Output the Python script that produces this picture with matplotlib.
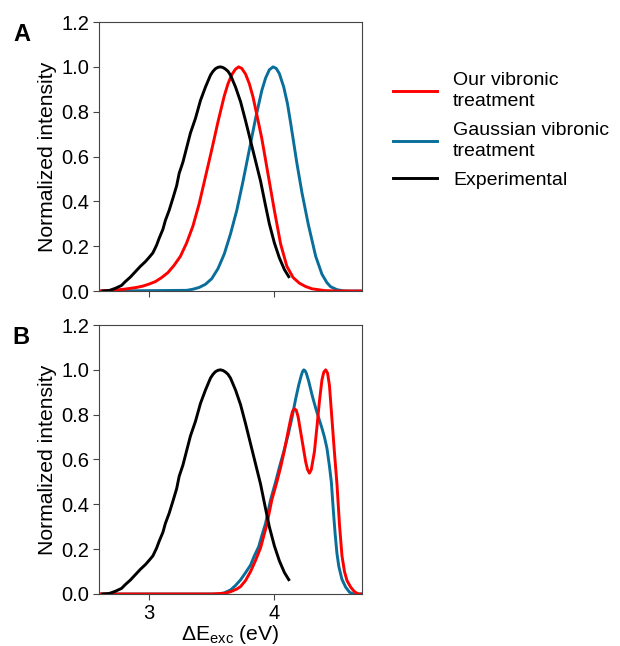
import numpy as np
import matplotlib
matplotlib.use("Agg")
import matplotlib.pyplot as plt

plt.rcParams["font.family"] = ["Liberation Sans", "DejaVu Sans"]

# experimental spectrum (same in both panels)
exp_x = [2.63, 2.68, 2.73, 2.78, 2.81, 2.85, 2.89, 2.93, 2.97, 3.00, 3.03, 3.06,
         3.08, 3.11, 3.13, 3.16, 3.19, 3.22, 3.24, 3.27, 3.30, 3.33, 3.37, 3.41,
         3.45, 3.49, 3.51, 3.53, 3.55, 3.57, 3.59, 3.61, 3.63, 3.65, 3.69, 3.73,
         3.77, 3.81, 3.85, 3.89, 3.93, 3.96, 4.00, 4.04, 4.08, 4.115]
exp_y = [0.0, 0.002, 0.012, 0.025, 0.042, 0.062, 0.086, 0.11, 0.131, 0.15, 0.17,
         0.205, 0.235, 0.275, 0.315, 0.36, 0.414, 0.47, 0.525, 0.575, 0.64, 0.705,
         0.77, 0.85, 0.91, 0.963, 0.98, 0.992, 0.998, 1.0, 0.997, 0.99, 0.98,
         0.963, 0.91, 0.845, 0.76, 0.67, 0.58, 0.49, 0.38, 0.30, 0.215, 0.148,
         0.096, 0.064]

# panel A
a_our_x = [2.60, 2.70, 2.80, 2.90, 2.95, 3.00, 3.05, 3.10, 3.15, 3.20, 3.25, 3.30,
           3.35, 3.40, 3.45, 3.50, 3.55, 3.60, 3.63, 3.66, 3.69, 3.715, 3.74,
           3.77, 3.80, 3.83, 3.87, 3.90, 3.95, 4.00, 4.05, 4.10, 4.15, 4.20,
           4.25, 4.30, 4.40, 4.50, 4.70]
a_our_y = [0.0, 0.003, 0.008, 0.016, 0.022, 0.031, 0.042, 0.06, 0.082, 0.115,
           0.155, 0.215, 0.29, 0.39, 0.51, 0.63, 0.755, 0.87, 0.925, 0.965, 0.99,
           1.0, 0.993, 0.968, 0.925, 0.865, 0.76, 0.68, 0.52, 0.36, 0.21, 0.11,
           0.06, 0.035, 0.02, 0.01, 0.002, 0.0, 0.0]

a_gau_x = [2.60, 3.30, 3.35, 3.40, 3.45, 3.50, 3.55, 3.60, 3.65, 3.70, 3.75, 3.80,
           3.85, 3.90, 3.93, 3.96, 3.99, 4.015, 4.04, 4.075, 4.105, 4.13, 4.18,
           4.22, 4.27, 4.33, 4.38, 4.42, 4.45, 4.50, 4.55, 4.60, 4.70]
a_gau_y = [0.0, 0.003, 0.008, 0.016, 0.03, 0.055, 0.10, 0.165, 0.255, 0.36, 0.49,
           0.63, 0.77, 0.895, 0.95, 0.987, 1.0, 0.993, 0.97, 0.91, 0.835, 0.75,
           0.57, 0.44, 0.30, 0.155, 0.075, 0.037, 0.019, 0.006, 0.001, 0.0, 0.0]

# panel B
b_our_x = [2.60, 3.50, 3.60, 3.65, 3.70, 3.73, 3.77, 3.81, 3.85, 3.89, 3.94, 3.98,
           4.02, 4.05, 4.08, 4.11, 4.13, 4.145, 4.16, 4.175, 4.19, 4.22, 4.25,
           4.265, 4.28, 4.295, 4.32, 4.34, 4.36, 4.38, 4.395, 4.41, 4.425, 4.44,
           4.46, 4.48, 4.50, 4.52, 4.54, 4.56, 4.58, 4.61, 4.64, 4.67, 4.70]
b_our_y = [0.0, 0.0, 0.003, 0.01, 0.022, 0.033, 0.06, 0.10, 0.15, 0.206, 0.31,
           0.42, 0.50, 0.565, 0.64, 0.725, 0.78, 0.815, 0.826, 0.82, 0.79, 0.69,
           0.59, 0.555, 0.539, 0.555, 0.635, 0.745, 0.86, 0.955, 0.99, 1.0, 0.985,
           0.93, 0.78, 0.63, 0.49, 0.31, 0.17, 0.10, 0.06, 0.03, 0.01, 0.0, 0.0]

b_gau_x = [2.60, 3.55, 3.60, 3.65, 3.69, 3.73, 3.77, 3.81, 3.84, 3.875, 3.90,
           3.93, 3.97, 4.01, 4.04, 4.075, 4.11, 4.14, 4.17, 4.195, 4.215, 4.225,
           4.235, 4.245, 4.255, 4.275, 4.30, 4.33, 4.36, 4.38, 4.40, 4.42, 4.44,
           4.455, 4.47, 4.485, 4.50, 4.515, 4.54, 4.57, 4.60, 4.63, 4.70]
b_gau_y = [0.0, 0.0, 0.005, 0.018, 0.038, 0.063, 0.095, 0.129, 0.17, 0.211, 0.26,
           0.315, 0.42, 0.50, 0.565, 0.635, 0.71, 0.784, 0.87, 0.933, 0.975, 0.992,
           1.0, 0.996, 0.985, 0.948, 0.89, 0.829, 0.775, 0.74, 0.70, 0.65, 0.57,
           0.50, 0.38, 0.27, 0.18, 0.122, 0.065, 0.03, 0.008, 0.0, 0.0]

labels = ["Our vibronic\ntreatment", "Gaussian vibronic\ntreatment", "Experimental"]
red = "#ff0000"
blue = "#0a6e9a"
lw = 2.1

fig = plt.figure(figsize=(6.2, 6.46), dpi=100)
ax_a = fig.add_axes([0.1597, 0.5495, 0.4242, 0.4164])
ax_b = fig.add_axes([0.1597, 0.0805, 0.4242, 0.4164])

panels = [
    (ax_a, a_our_x, a_our_y, a_gau_x, a_gau_y, "A"),
    (ax_b, b_our_x, b_our_y, b_gau_x, b_gau_y, "B"),
]
for ax, ox, oy, gx, gy, tag in panels:
    ax.plot(exp_x, exp_y, color="black", lw=lw, zorder=3)
    ax.plot(gx, gy, color=blue, lw=lw, zorder=2)
    ax.plot(ox, oy, color=red, lw=lw, zorder=2)
    ax.set_xlim(2.6, 4.7)
    ax.set_ylim(0, 1.2)
    ax.set_xticks([3, 4])
    ax.set_yticks(np.arange(0, 1.21, 0.2))
    ax.set_yticklabels([f"{v:.1f}" for v in np.arange(0, 1.21, 0.2)])
    ax.tick_params(labelsize=14.5, length=4.5, pad=2.5, color="#444444")
    for sp in ax.spines.values():
        sp.set_color("#444444")
    ax.set_ylabel("Normalized intensity", fontsize=15.2, labelpad=3)
    ax.text(-0.295, 0.955, tag, transform=ax.transAxes, fontsize=17,
            fontweight="bold", ha="center", va="center")

ax_a.tick_params(labelbottom=False)
ax_b.set_xlabel("ΔE$_{\\mathregular{exc}}$ (eV)", fontsize=15.2, labelpad=0.5)

handles = [
    plt.Line2D([], [], color=red, lw=lw),
    plt.Line2D([], [], color=blue, lw=lw),
    plt.Line2D([], [], color="black", lw=lw),
]
leg = fig.legend(handles, labels, loc="upper left", bbox_to_anchor=(0.605, 0.915),
                 frameon=False, fontsize=14, handlelength=2.3, handletextpad=0.8,
                 labelspacing=0.6)
for t in leg.get_texts():
    t.set_linespacing(1.3)

fig.savefig("out.png", dpi=100)
